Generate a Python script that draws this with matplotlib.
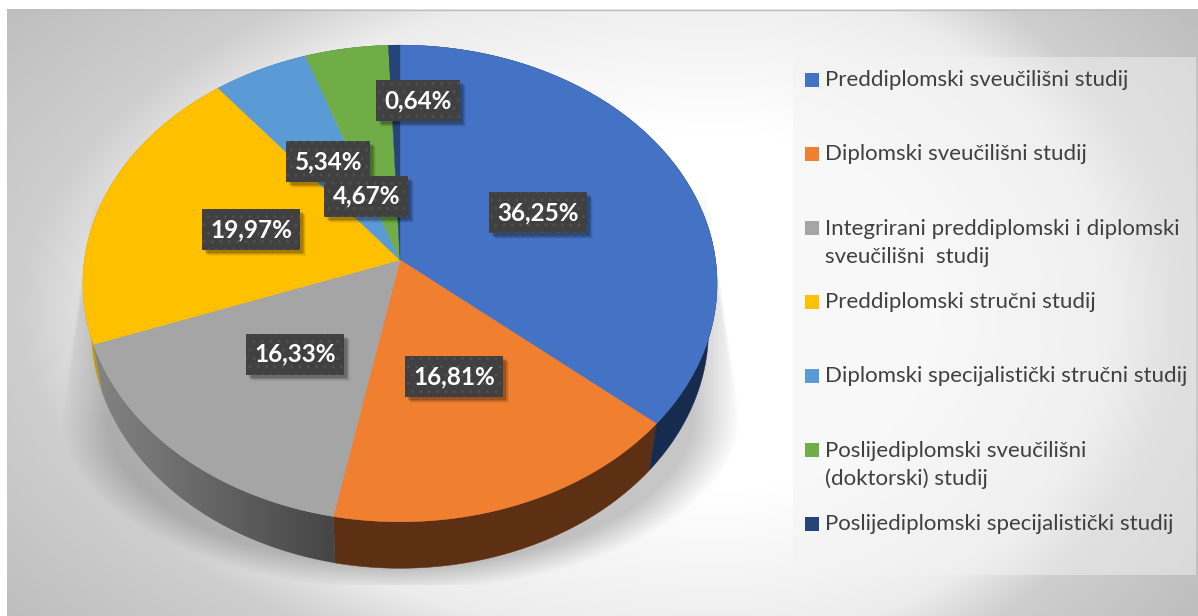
import numpy as np
import matplotlib
matplotlib.use('Agg')
import matplotlib.pyplot as plt
from matplotlib.patches import Polygon, Rectangle

plt.rcParams['font.family'] = ['Lato', 'DejaVu Sans']

# data
categories = [
    'Preddiplomski sveučilišni studij',
    'Diplomski sveučilišni studij',
    'Integrirani preddiplomski i diplomski\nsveučilišni  studij',
    'Preddiplomski stručni studij',
    'Diplomski specijalistički stručni studij',
    'Poslijediplomski sveučilišni\n(doktorski) studij',
    'Poslijediplomski specijalistički studij',
]
values = [36.25, 16.81, 16.33, 19.97, 5.34, 4.67, 0.64]
labels = ['36,25%', '16,81%', '16,33%', '19,97%', '5,34%', '4,67%', '0,64%']

# style
colors = ['#4472C4', '#F07F30', '#A5A5A5', '#FFC000', '#5B9BD5', '#70AD47', '#264478']
walls = ['#172B4F', '#5E3013', '#A5A5A5', '#C89600', '#3A6A96', '#4A7530', '#172B4F']
label_shift = [(0, 0), (-3, -6), (6, -3), (-1, 1), (-2, -3), (-7, 42), (21, -52)]
legend_y = [80, 154, 228, 302, 376, 450, 524]

W, H = 1198, 616
CX, CY, CY_LOW = 400, 260, 306.5
A, A_LOW, B, K = 315.5, 307, 236, 0.0985


def project(theta, scale=1.0, low=False):
    """Pie angle (clockwise from top) to pixel position, with the perspective tilt."""
    u, v = np.sin(theta), np.cos(theta)
    d = 1 + K * v
    if low:
        return CX + A_LOW * u / d, CY_LOW - B * v / d
    return CX + scale * A * u / d, CY - scale * B * v / d


def background():
    yy, xx = np.mgrid[0:H, 0:W]
    dx = xx - 720.0
    dx = np.where(dx < 0, dx / 720.0, dx / 470.0)
    d = np.sqrt(dx ** 2 + ((yy - 310) / 400.0) ** 2)
    level = np.interp(d, [0.45, 0.83, 0.97, 1.25], [255, 236, 206, 190])
    img = np.dstack([level, level, level]) / 255.0

    # drop shadow under the pie
    half = 340 - np.clip(415 - yy, 0, None) * 0.15
    side = np.clip((half - np.abs(xx - 400)) / 4.0, 0, 1)
    t = np.sqrt(((xx - 400) / 340.0) ** 2 + (np.clip(yy - 415, 0, None) / 175.0) ** 2)
    round_edge = np.clip((1.0 - t) / 0.14, 0, 1)
    fade = np.clip((yy - 190) / 110.0, 0, 1)
    alpha = 0.22 * side * round_edge * fade * (yy < 585)
    img = img * (1 - alpha[..., None])
    return img


fig = plt.figure(figsize=(W / 100, H / 100), dpi=100, facecolor='white')
ax = fig.add_axes([0, 0, 1, 1])
ax.axis('off')

ax.imshow(background(), extent=(0, W, H, 0), aspect='auto', zorder=0, interpolation='nearest')
ax.add_patch(Rectangle((0, 0), 7, H, fc='white', ec='none', zorder=0.5))
ax.add_patch(Rectangle((0, 0), W, 9, fc='white', ec='none', zorder=0.5))
ax.plot([7, W], [9.5, 9.5], color='#BFBFBF', lw=1, zorder=1)

# slice angles
edges = np.radians(np.concatenate([[0], np.cumsum(values)]) / np.sum(values) * 360)

# side walls, back ones first
for i in reversed(range(len(values))):
    steps = np.linspace(edges[i], edges[i + 1], 120)
    x1, y1 = project(steps)
    x2, y2 = project(steps[::-1], low=True)
    wall = Polygon(np.column_stack([np.r_[x1, x2], np.r_[y1, y2]]),
                   fc=walls[i], ec=walls[i], lw=0.3, zorder=2)
    ax.add_patch(wall)
    if i == 2:
        # the gray wall darkens towards the front
        grad = np.interp(np.arange(90, 340), [90, 150, 334], [0.52, 0.46, 0.27])
        im = ax.imshow(np.dstack([grad, grad, grad]), extent=(90, 340, 600, 300),
                       aspect='auto', zorder=2.1)
        im.set_clip_path(wall)

ax.set_xlim(0, W)
ax.set_ylim(H, 0)

# top faces
for i in range(len(values)):
    arc = np.linspace(edges[i], edges[i + 1], 120)
    x, y = project(arc)
    ax.add_patch(Polygon(np.column_stack([np.r_[CX, x], np.r_[CY, y]]),
                         fc=colors[i], ec=colors[i], lw=0.3, zorder=3))

# data labels, at half radius except where they were moved by hand
for i, lab in enumerate(labels):
    mid = (edges[i] + edges[i + 1]) / 2
    x, y = project(mid, scale=0.5)
    x += label_shift[i][0]
    y += label_shift[i][1]
    w = 98 if len(lab) == 6 else 84
    h = 41
    z = 5 + i
    for off, al in [(6, 0.05), (5, 0.08), (4, 0.12), (3, 0.15)]:
        ax.add_patch(Rectangle((x - w / 2 + off, y - h / 2 + off), w, h, fc='black',
                               ec='none', alpha=al, zorder=z))
    ax.add_patch(Rectangle((x - w / 2, y - h / 2), w, h, fc='#404040', ec='#4F4F4F',
                           hatch='..', lw=0, zorder=z))
    ax.text(x, y, lab, color='white', fontsize=17.5, fontweight='bold', ha='center',
            va='center', zorder=z)

# legend panel
ax.add_patch(Rectangle((793, 57), 403, 518, fc='#F3F3F3', ec='none', alpha=0.5, zorder=1))
for name, col, y in zip(categories, colors, legend_y):
    ax.add_patch(Rectangle((805, y - 7), 14, 14, fc=col, ec='none', zorder=4))
    lines = name.count('\n')
    ax.text(825, y + lines * 15, name, color='#404040', fontsize=16.0, ha='left', va='center',
            linespacing=1.44, zorder=4)

fig.savefig('out.png', dpi=100, facecolor='white')
